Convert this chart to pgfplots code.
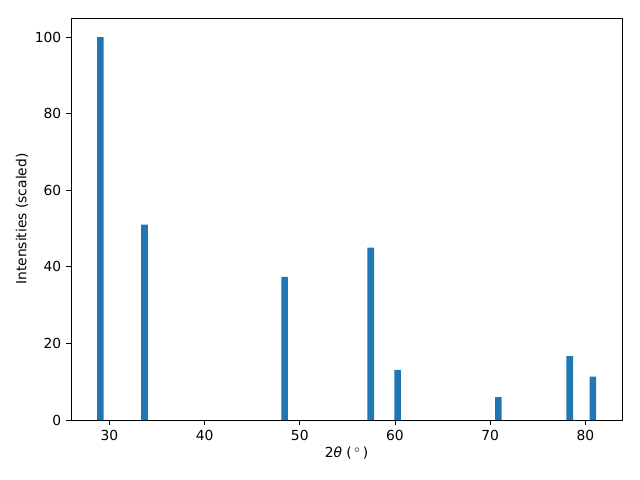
\documentclass[border=0pt]{standalone}
\usepackage{pgfplots}
\pgfplotsset{compat=1.18}
\usepackage{fontspec}
\setmainfont{DejaVu Sans}
\definecolor{mplblue}{HTML}{1F77B4}
\begin{document}
\fontsize{10}{12}\selectfont
\begin{tikzpicture}
\useasboundingbox (-51.12bp,-43.2bp) rectangle (409.68bp,302.4bp);
\begin{axis}[
  at={(0,0)}, anchor=south west,
  scale only axis,
  width=396.72bp, height=289.44bp,
  xmin=25.97, xmax=83.85,
  ymin=0, ymax=105,
  xtick={30,40,50,60,70,80},
  ytick={0,20,40,60,80,100},
  tick align=outside,
  tick pos=left,
  major tick length=3.5bp,
  tick style={black, line width=0.6bp},
  axis line style={line width=0.6bp},
  /pgf/number format/assume math mode=true,
  ticklabel style={font=\fontsize{10}{12}\selectfont},
  xlabel={2\textit{θ} (\,$^\circ$\,)},
  ylabel={Intensities (scaled)},
  xlabel style={yshift=2bp},
  ylabel style={yshift=-2bp},
  ybar, bar width=0.7,
]
\addplot[fill=mplblue, draw=none] coordinates {
  (29.06,100) (33.69,51.0) (48.41,37.4) (57.45,45.0) (60.28,13.1)
  (70.86,6.0) (78.36,16.7) (80.79,11.3)
};
\end{axis}
\end{tikzpicture}
\end{document}
